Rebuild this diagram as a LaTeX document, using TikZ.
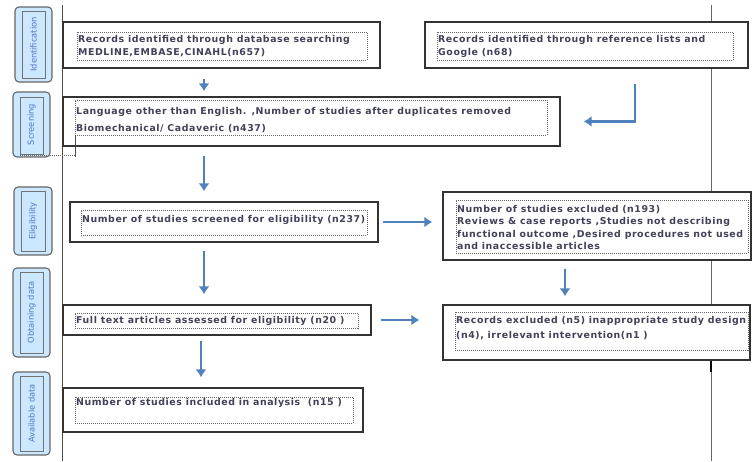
\documentclass[tikz,border=0pt]{standalone}
\usepackage{fontspec}
\newfontfamily\boxfont{DejaVu Sans Bold}[LetterSpace=6]
\newfontfamily\tagfont{DejaVu Sans}
\usetikzlibrary{arrows.meta,fit}

\definecolor{arrowblue}{RGB}{79,129,189}
\definecolor{tagfill}{RGB}{204,232,255}
\definecolor{tagtext}{RGB}{80,115,205}
\definecolor{inktext}{RGB}{65,65,90}

\begin{document}
\begin{tikzpicture}[x=1pt,y=-1pt,
    frame/.style={draw=black!80,line width=1.3pt,fill=white,inner sep=0pt},
    dotbox/.style={draw=black!60,densely dotted,line width=1pt,inner sep=0pt},
    txt/.style={anchor=north west,inner sep=1.5pt,align=left,text=inktext,
      font=\boxfont\fontsize{9.4}{13.5}\selectfont},
    tag/.style={draw=black!60,line width=1.1pt,fill=tagfill,rounded corners=4pt,inner sep=0pt},
    tagin/.style={draw=black!55,line width=.6pt,inner sep=0pt},
    tagtxt/.style={rotate=90,text=tagtext,font=\tagfont\fontsize{8.3}{9}\selectfont},
    arr/.style={draw=arrowblue,line width=2.3pt,-{Latex[length=8pt,width=11pt]}}]

  \useasboundingbox (0,0) rectangle (752,461);

  % rules
  \draw[black!70,line width=.8pt] (62,5) -- (62,461);
  \draw[black!60,line width=.8pt] (711,5) -- (711,461);
  \draw[black,line width=1.6pt] (711,360) -- (711,372);

  % stage tags
  \begin{scope}
    \node (s1) [tag, fit={(15,7) (52,82)}] {};
    \node (s2) [tag, fit={(13,92) (50,157)}] {};
    \node (s3) [tag, fit={(14,187) (52,255)}] {};
    \node (s4) [tag, fit={(13,268) (50,357)}] {};
    \node (s5) [tag, fit={(13,372) (50,455)}] {};
    \node (s1i) [tagin, fit={(22,11) (45,78)}] {};
    \node (s2i) [tagin, fit={(20,97) (43,154)}] {};
    \node (s3i) [tagin, fit={(21,191) (45,251)}] {};
    \node (s4i) [tagin, fit={(20,272) (43,353)}] {};
    \node (s5i) [tagin, fit={(20,376) (43,451)}] {};
    \node [tagtxt] at (s1) {Identification};
    \node [tagtxt] at (s2) {Screening};
    \node [tagtxt] at (s3) {Eligibility};
    \node [tagtxt] at (s4) {Obtaining data};
    \node [tagtxt] at (s5) {Available data};
  \end{scope}

  % boxes
  \node (1) [frame, fit={(63,22) (380,68)}] {};
  \node (2) [frame, fit={(425,22) (748,68)}] {};
  \node (3) [frame, fit={(63,97) (560,146)}] {};
  \node (4) [frame, fit={(70,202) (378,242)}] {};
  \node (5) [frame, fit={(443,192) (751,260)}] {};
  \node (6) [frame, fit={(443,305) (750,360)}] {};
  \node (7) [frame, fit={(63,305) (371,335)}] {};
  \node (8) [frame, fit={(63,388) (363,432)}] {};

  \node (1i) [dotbox, fit={(77,32) (367,60)}] {};
  \node (2i) [dotbox, fit={(437,32) (733,60)}] {};
  \node (3i) [dotbox, fit={(75,100) (547,135)}] {};
  \node (4i) [dotbox, fit={(81,210) (367,235)}] {};
  \node (5i) [dotbox, fit={(456,200) (748,253)}] {};
  \node (6i) [dotbox, fit={(455,312) (748,350)}] {};
  \node (7i) [dotbox, fit={(75,313) (358,328)}] {};
  \node (8i) [dotbox, fit={(75,397) (353,423)}] {};

  \draw[dotbox] (20,155) -- (75,155);
  \draw[black!70,line width=.6pt] (75,135) -- (75,157);

  \node (1t) [txt, yshift=-2pt] at (1i.north west) {Records identified through database searching\\MEDLINE,EMBASE,CINAHL(n657)};
  \node (2t) [txt, yshift=-2pt] at (2i.north west) {Records identified through reference lists and\\Google (n68)};
  \node (3t) [txt, yshift=-6pt, font=\boxfont\fontsize{9.4}{17}\selectfont] at (3i.north west) {Language other than English. ,Number of studies after duplicates removed\\Biomechanical/ Cadaveric (n437)};
  \node (4t) [txt, yshift=-4pt] at (4i.north west) {Number of studies screened for eligibility (n237)};
  \node (5t) [txt, yshift=-4pt, font=\boxfont\fontsize{9.4}{12.5}\selectfont] at (5i.north west) {Number of studies excluded (n193)\\Reviews \& case reports ,Studies not describing\\functional outcome ,Desired procedures not used\\and inaccessible articles};
  \node (6t) [txt, yshift=-3pt, font=\boxfont\fontsize{9.4}{15}\selectfont] at (6i.north west) {Records excluded (n5) inappropriate study design\\(n4), irrelevant intervention(n1 )};
  \node (7t) [txt, yshift=-2pt] at (7i.north west) {Full text articles assessed for eligibility (n20 )};
  \node (8t) [txt, yshift=0pt] at (8i.north west) {Number of studies included in analysis~ (n15 )};

  % arrows
  \coordinate (m1) at (204,0);
  \coordinate (m2) at (201,0);
  \coordinate (m3) at (565,0);
  \coordinate (m4) at (635,0);

  \draw[arr, shorten <=10pt, shorten >=5pt] (m1 |- 1.south) -- (m1 |- 3.north);
  \draw[arr, shorten <=9pt, shorten >=10pt] (m1 |- 3.south) -- (m1 |- 4.north);
  \draw[arr, shorten <=8pt, shorten >=10pt] (m1 |- 4.south) -- (m1 |- 7.north);
  \draw[arr, shorten <=5pt, shorten >=10pt] (m2 |- 7.south) -- (m2 |- 8.north);
  \draw[arr, shorten <=4pt, shorten >=10pt] (4.east) -- (4.east -| 5.west);
  \draw[arr, shorten <=8pt, shorten >=8pt] (m3 |- 5.south) -- (m3 |- 6.north);
  \draw[arr, shorten <=9pt, shorten >=23pt] (7.east) -- (7.east -| 6.west);
  \draw[arr, shorten <=15pt, shorten >=23pt] (m4 |- 2.south) |- (3.east);

\end{tikzpicture}
\end{document}
